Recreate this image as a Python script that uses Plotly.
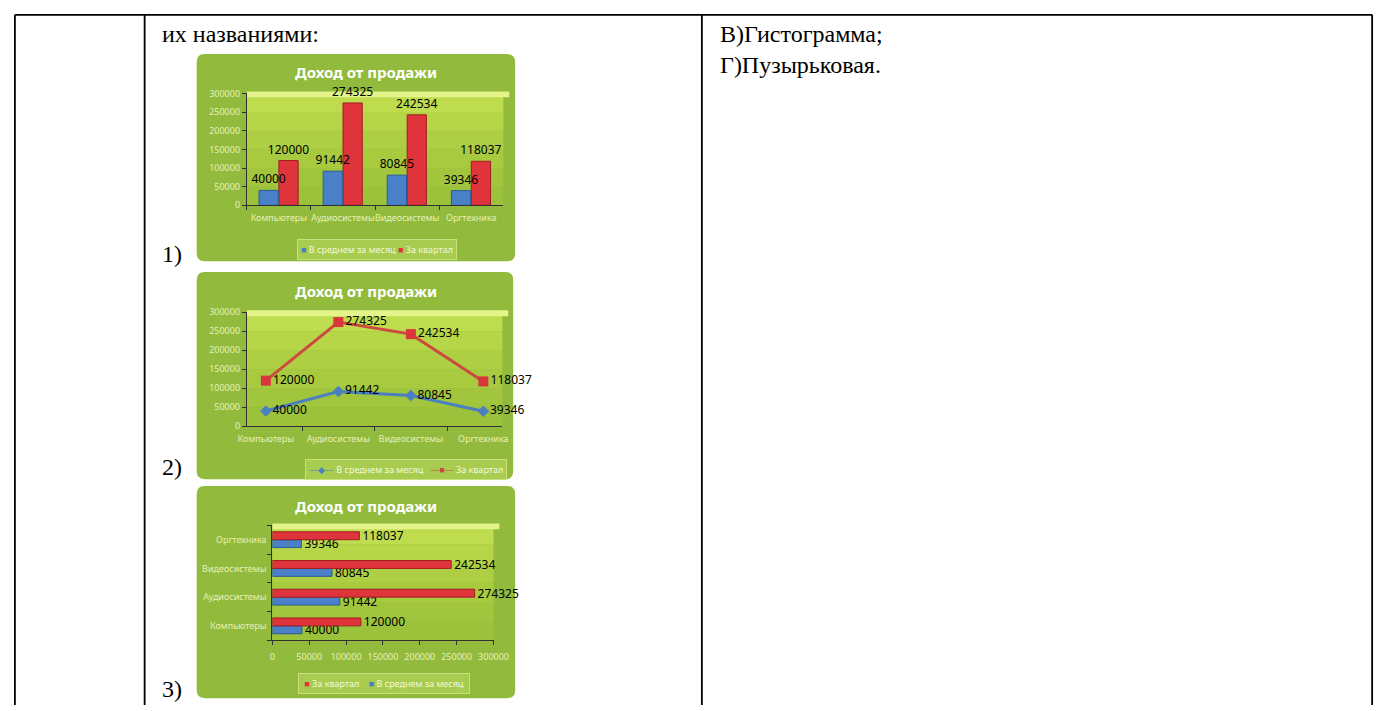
import plotly.graph_objects as go

W, H = 1395, 711

categories = ["Компьютеры", "Аудиосистемы", "Видеосистемы", "Оргтехника"]
per_month = [40000, 91442, 80845, 39346]
per_quarter = [120000, 274325, 242534, 118037]
name_month = "В среднем за месяц"
name_quarter = "За квартал"
chart_title = "Доход от продажи"
axis_ticks = [0, 50000, 100000, 150000, 200000, 250000, 300000]

BLUE, BLUE_EDGE = "#4a80c8", "#2a5a98"
RED, RED_EDGE = "#e0343c", "#a01c22"
BG_GREEN = "#92bb3e"
TICK_COL = "#e6f0b8"
CHART_FONT = "Noto Sans"


def fx(x):
    return x / W


def fy(y):
    return 1 - y / H


def rrect(x0, y0, x1, y1, r, color):
    rx, ry = r / W, r / H
    a, b, c, d = fx(x0), fy(y1), fx(x1), fy(y0)
    path = (f"M{a+rx},{b} L{c-rx},{b} Q{c},{b} {c},{b+ry} L{c},{d-ry} "
            f"Q{c},{d} {c-rx},{d} L{a+rx},{d} Q{a},{d} {a},{d-ry} "
            f"L{a},{b+ry} Q{a},{b} {a+rx},{b} Z")
    return dict(type="path", xref="paper", yref="paper", path=path,
                fillcolor=color, line=dict(width=0), layer="below")


def wall(x0, y0, x1, y1):
    # plot wall: light top rim, then bands going darker downwards
    out = []
    cols = ["#bedc4e", "#b6d648", "#aecf43", "#a7ca3f", "#a1c53c", "#9cc13a"]
    n = len(cols)
    step = (y1 - y0) / n
    for i, c in enumerate(cols):
        out.append(dict(type="rect", xref="paper", yref="paper",
                        x0=fx(x0), x1=fx(x1), y0=fy(y0 + step * (i + 1)),
                        y1=fy(y0 + step * i), fillcolor=c,
                        line=dict(width=0), layer="below"))
    out.append(dict(type="rect", xref="paper", yref="paper",
                    x0=fx(x0), x1=fx(x1 + 6), y0=fy(y0 + 4), y1=fy(y0 - 2),
                    fillcolor="#e4f48a", line=dict(width=0), layer="below"))
    return out


label_font = dict(size=12, color="black", family=CHART_FONT)

fig = go.Figure()

# 1) columns: red first so the blue labels are drawn over the red bars
fig.add_trace(go.Bar(x=categories, y=per_quarter, name=name_quarter,
                     offset=0, width=0.3,
                     marker=dict(color=RED, line=dict(color=RED_EDGE, width=1)),
                     text=per_quarter, textposition="outside", cliponaxis=False,
                     constraintext="none", textfont=label_font,
                     xaxis="x", yaxis="y"))
fig.add_trace(go.Bar(x=categories, y=per_month, name=name_month,
                     offset=-0.31, width=0.3,
                     marker=dict(color=BLUE, line=dict(color=BLUE_EDGE, width=1)),
                     text=per_month, textposition="outside", cliponaxis=False,
                     constraintext="none", textfont=label_font,
                     xaxis="x", yaxis="y"))

# 2) lines
fig.add_trace(go.Scatter(x=categories, y=per_month, name=name_month,
                         mode="lines+markers+text", text=per_month,
                         textposition="middle right", cliponaxis=False,
                         line=dict(color="#4a7fc0", width=3),
                         marker=dict(symbol="diamond", size=9, color="#4a7fc0"),
                         textfont=label_font, xaxis="x2", yaxis="y2"))
fig.add_trace(go.Scatter(x=categories, y=per_quarter, name=name_quarter,
                         mode="lines+markers+text", text=per_quarter,
                         textposition="middle right", cliponaxis=False,
                         line=dict(color="#cc4a40", width=3),
                         marker=dict(symbol="square", size=10, color="#d8363c"),
                         textfont=label_font, xaxis="x2", yaxis="y2"))

# 3) horizontal bars
fig.add_trace(go.Bar(y=categories, x=per_month, name=name_month, orientation="h",
                     marker=dict(color=BLUE, line=dict(color=BLUE_EDGE, width=1)),
                     text=per_month, textposition="outside", cliponaxis=False,
                     constraintext="none", textfont=label_font,
                     xaxis="x3", yaxis="y3"))
fig.add_trace(go.Bar(y=categories, x=per_quarter, name=name_quarter, orientation="h",
                     marker=dict(color=RED, line=dict(color=RED_EDGE, width=1)),
                     text=per_quarter, textposition="outside", cliponaxis=False,
                     constraintext="none", textfont=label_font,
                     xaxis="x3", yaxis="y3"))

tickfont = dict(size=9, color=TICK_COL, family=CHART_FONT)
cat_axis = dict(type="category", tickson="boundaries", ticks="outside", ticklen=4,
                tickcolor="#303030", showline=True, linecolor="#303030",
                showgrid=False, tickfont=tickfont, fixedrange=True)
val_axis = dict(range=[0, 300000], tickvals=axis_ticks, ticks="outside", ticklen=4,
                tickcolor="#303030", showline=True, linecolor="#303030",
                showgrid=False, zeroline=False, tickfont=tickfont, fixedrange=True,
                tickformat="d")

# plot-area boxes in page pixels
p1 = (242, 88, 503, 202)
p2 = (242, 311, 502, 427)
p3 = (268, 528, 493, 645)


def dom(p):
    return [fx(p[0]), fx(p[2])], [fy(p[3]), fy(p[1])]


d1x, d1y = dom(p1)
d2x, d2y = dom(p2)
d3x, d3y = dom(p3)

shapes = []
shapes.append(rrect(191, 48, 515, 259, 8, BG_GREEN))
shapes.append(rrect(191, 270, 513, 481, 8, BG_GREEN))
shapes.append(rrect(191, 488, 515, 704, 8, BG_GREEN))
shapes += wall(*p1) + wall(*p2) + wall(*p3)

# document table lines
for xx in (6, 138, 705, 1387):
    shapes.append(dict(type="line", xref="paper", yref="paper",
                       x0=fx(xx), x1=fx(xx), y0=0, y1=fy(8),
                       line=dict(color="black", width=1.8)))
shapes.append(dict(type="line", xref="paper", yref="paper",
                   x0=fx(6), x1=fx(1387), y0=fy(8), y1=fy(8),
                   line=dict(color="black", width=1.8)))

serif = dict(family="Liberation Serif", size=24, color="black")
doc_text = [
    ("их названиями:", 154, 27),
    ("1)", 154, 252),
    ("2)", 154, 469),
    ("3)", 154, 695),
    ("В)Гистограмма;", 721, 28),
    ("Г)Пузырьковая.", 721, 59),
]
annotations = [dict(text=t, x=fx(x), y=fy(y), xref="paper", yref="paper",
                    xanchor="left", yanchor="middle", showarrow=False, font=serif)
               for t, x, y in doc_text]
for cy in (66, 289, 508):
    annotations.append(dict(text="<b>" + chart_title + "</b>", x=fx(363), y=fy(cy),
                            xref="paper", yref="paper", showarrow=False,
                            xanchor="center", yanchor="middle",
                            font=dict(size=15, color="white", family=CHART_FONT)))


def sw(color, glyph):
    return f'<span style="color:{color}">{glyph}</span>'


legend_font = dict(size=9, color="#f2f8dc", family=CHART_FONT)
legend_box = dict(xref="paper", yref="paper", showarrow=False, xanchor="center",
                  yanchor="middle", bgcolor="#a8cc50", bordercolor="#c8e07a",
                  borderwidth=1, borderpad=3, font=legend_font)
annotations.append(dict(legend_box, x=fx(374), y=fy(247),
                        text=f"{sw(BLUE, '■')} {name_month} {sw(RED, '■')} {name_quarter}"))
annotations.append(dict(legend_box, x=fx(404), y=fy(471),
                        text=f"{sw('#4a7fc0', '—◆—')} {name_month}   "
                             f"{sw('#cc4a40', '—■—')} {name_quarter}"))
annotations.append(dict(legend_box, x=fx(382), y=fy(689),
                        text=f" {sw(RED, '■')} {name_quarter}    {sw(BLUE, '■')} {name_month} "))

fig.update_layout(
    width=W, height=H, margin=dict(l=0, r=0, t=0, b=0),
    paper_bgcolor="white", plot_bgcolor="rgba(0,0,0,0)",
    barmode="group", bargap=0.45, bargroupgap=0,
    xaxis=dict(cat_axis, domain=d1x, anchor="y", tickangle=0, ticklabelstandoff=4),
    yaxis=dict(val_axis, domain=d1y, anchor="x"),
    xaxis2=dict(cat_axis, domain=d2x, anchor="y2", tickangle=0, ticklabelstandoff=4),
    yaxis2=dict(val_axis, domain=d2y, anchor="x2"),
    xaxis3=dict(val_axis, domain=d3x, anchor="y3", tickangle=0, ticklabelstandoff=4),
    yaxis3=dict(cat_axis, domain=d3y, anchor="x3", ticklabelstandoff=3),
    shapes=shapes, annotations=annotations,
    showlegend=False,
)

# the figure is exactly the page size, so drop the default body margin
fig.write_html("out.html", config=dict(displayModeBar=False),
               post_script="document.body.style.margin='0';")
